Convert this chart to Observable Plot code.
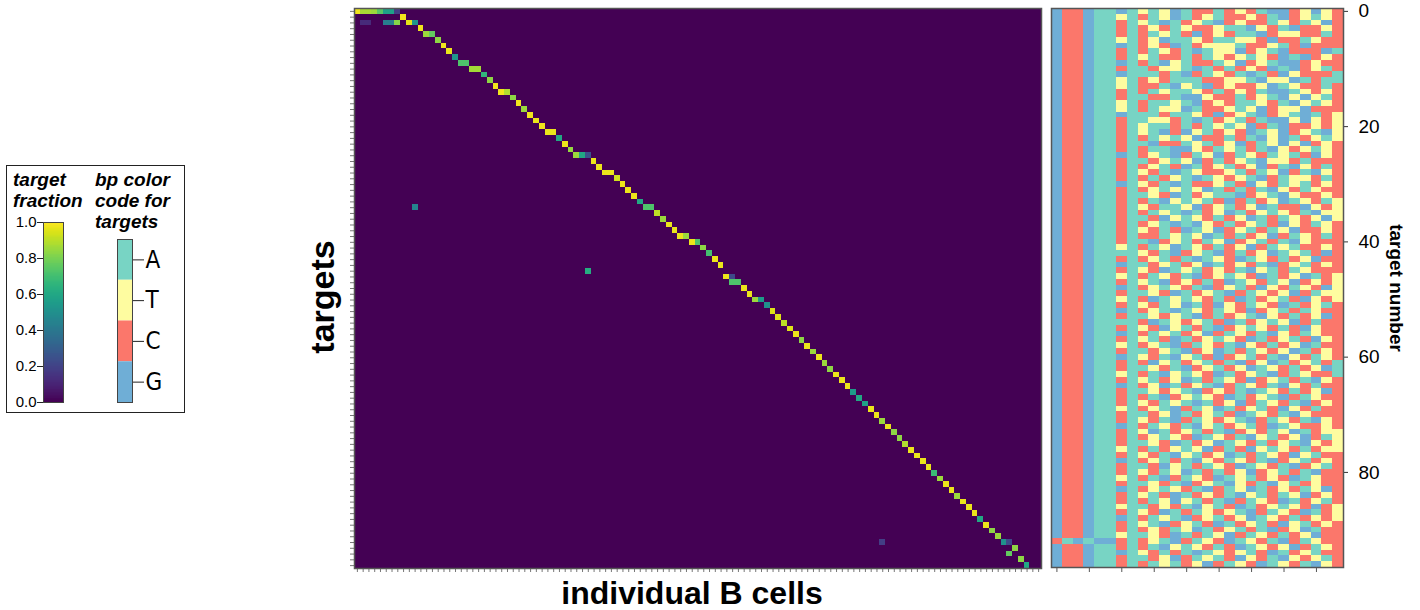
<!DOCTYPE html>
<html>
<head>
<meta charset="utf-8">
<script src="https://cdn.jsdelivr.net/npm/d3@7"></script>
<script src="https://cdn.jsdelivr.net/npm/@observablehq/plot@0.6"></script>
<style>
  body { margin: 0; background: #fff; }
  #root { position: relative; width: 1420px; height: 610px; overflow: hidden; font-family: "Liberation Sans", Arial, sans-serif; color: #000; }
  .lbl { position: absolute; white-space: nowrap; font-weight: bold; line-height: 1; }
  .legtitle { position: absolute; font-weight: bold; font-style: italic; font-size: 19px; line-height: 21px; white-space: nowrap; }
  #legendbox { position: absolute; left: 6px; top: 165px; width: 177px; height: 246px; border: 1px solid #222; }
</style>
</head>
<body>
<div id="root"></div>
<script>
// ---------------- data ----------------
// heatmap: nonzero cells (target row, B-cell column, target fraction)
const heatRows = [
  0,0,0,0,0,0,0,0,
  1,
  2,2,2,2,2,2,2,
  3, 4,4, 5, 6, 7, 8, 9,9, 10,10, 11, 12, 13, 14,14, 15, 16, 17, 18, 19, 20, 21,21,
  22, 23, 24, 25,25,25, 26, 27, 28,28, 29, 30, 31,
  32, 33, 34,34, 35, 36,
  34,
  37, 38, 39,39, 40,40, 41, 42, 43, 44, 45, 46,46, 47,47, 48, 49, 50,50,
  51, 52, 53, 54, 55, 56,
  57, 58, 59, 60, 61, 62, 63, 64, 65, 66, 67, 68, 69, 70, 71, 72, 73, 74, 75,
  76, 77, 78, 79, 80, 81, 82, 83, 84, 85, 86, 87, 88, 89, 90, 91, 92,92,92, 93, 94, 95, 96
];
const heatCols = [
  0,1,2,3,4,5,6,7,
  8,
  1,2,5,6,7,9,10,
  11, 12,13, 14, 15, 16, 17, 18,19, 20,21, 22, 23, 24, 25,26, 27, 28, 29, 30, 31, 32, 33,34,
  35, 36, 37, 38,39,40, 41, 42, 43,44, 45, 46, 47,
  48, 49, 50,51, 52, 53,
  10,
  54, 55, 56,57, 58,59, 60, 61, 62, 63, 40, 64,65, 65,66, 67, 68, 69,70,
  71, 72, 73, 74, 75, 76,
  77, 78, 79, 80, 81, 82, 83, 84, 85, 86, 87, 88, 89, 90, 91, 92, 93, 94, 95,
  96, 97, 98, 99, 100, 101, 102, 103, 104, 105, 106, 107, 108, 109, 110, 111, 112,113,91, 114, 113, 115, 116
];
const heatValues = [
  0.98,0.87,0.87,0.85,0.74,0.57,0.57,0.18,
  0.98,
  0.12,0.12,0.42,0.42,0.82,0.96,0.52,
  0.98, 0.85,0.76, 0.83, 0.98, 0.97, 0.52, 0.72,0.72, 0.86,0.86, 0.66, 0.83, 0.98, 0.98,0.88, 0.83, 0.98, 0.85, 0.98, 0.97, 0.98, 0.97,0.97,
  0.6, 0.97, 0.84, 0.85,0.6,0.25, 0.97, 0.97, 0.97,0.97, 0.93, 0.97, 0.97,
  0.97, 0.6, 0.72,0.72, 0.9, 0.85,
  0.45,
  0.97, 0.97, 0.97,0.85, 0.97,0.72, 0.83, 0.7, 0.97, 0.97, 0.62, 0.97,0.22, 0.72,0.72, 0.97, 0.97, 0.85,0.55,
  0.5, 0.95, 0.95, 0.9, 0.95, 0.97,
  0.83, 0.97, 0.85, 0.97, 0.85, 0.83, 0.97, 0.97, 0.97, 0.55, 0.6, 0.58, 0.97, 0.97, 0.85, 0.97, 0.83, 0.83, 0.88,
  0.97, 0.97, 0.97, 0.97, 0.68, 0.85, 0.97, 0.97, 0.85, 0.97, 0.97, 0.97, 0.6, 0.97, 0.83, 0.85, 0.5,0.22,0.18, 0.83, 0.76, 0.83, 0.6
];
const nTargets = 97;
const nCells = 119;

// bp sequence of every target (27 positions), A/T/C/G
const targetSequences = [
  "GCCGAAGATATGACCACTCAGGCTGTC","GCCGAATACATGACTACCTCAGCTATC","GCCGAACATAGACTAGCTCCATCATGC",
  "GCCGAACACTCATCCTAAGTCAGCCTC","GCCGAACACATACGCTCAAGCTTCCAC","GCCGAATACTGAATCAATTCGCCATCC",
  "GCCGAAGACTCGACTTTACCTACGCCC","GCCGAACACATCAGATTGCTAGCCCGA","GCCGAACATACCACATCTATCGAGCTC",
  "GCCGAAGACAGTACCATGCTAGGCTCC","GCCGAACAACTTAGACACTCGAGCTAC","GCCGAAGAAACAGCATCAGACGTCCCA",
  "GCCGAATACTCAAACCTTAGTTGACAA","GCCGAATACCAGTAGCTCCTGATCCAC","GCCGAACACATAATCACTCAGGATCTC",
  "GCCGAACAACCAGGTCCACTAGTGTAC","GCCGAATACAATAGCTCAATCAGTATC","GCCGAATACATTGACCTATGCTTGCCC",
  "GCCGAAGAAACAATCGCTAGCTAGACT","GCCGAACAATTCAGACTACAGGTGTCT","GCCGAACATAACACATATGCAGCCTCT",
  "GCCGAACATAGCGTACTCGATGCTAGT","GCCGAACACATATGCCACAGTGACTAT","GCCGAACAAGCCATACTGCATGTGCTC",
  "GCCGAACACAAGGTCATACAGTCTATC","GCCGAAGACTAGCATGCATCATACGTC","GCCGAACAACTATGCACTAGTTCACCC",
  "GCCGAACACTACGACTACTGCAGTCAC","GCCGAACATCAGATCCTACATGCAGTC","GCCGAACACACTAGATCTAGCATTCAC",
  "GCCGAAGATCAGACCTACGTCATACTC","GCCGAACACTATATGACACAGTCATCC","GCCGAACAATCGACTAAGCTAGTCCTC",
  "GCCGAACACAGTATACGCACTGATCAT","GCCGAACATCAATGCTACTGACCGTCT","GCCGAACACATAGACTGACTATCAGTT",
  "GCCGAACAACGTATCACTGACATCTGT","GCCGAACACTAGAGTCACTACGTCATC","GCCGAACATCACGATGCTACATGCCTC",
  "GCCGAACACCATATGACACTGCATCAC","GCCGAACAAGCTACATGCTACAGTCCC","GCCGAATACATGATCACTGCATACCTC",
  "GCCGAAAATCAGCTAGCACTGATACGC","GCCGAACACTACAGATCGATCACTGCC","GCCGAAGAACTACTGACTCAGCTACTC",
  "GCCGAACATCGATACTCAGTACATCCC","GCCGAATACATCAGCTATCGACTGACT","GCCGAACATAGCTCACGATCATGCTCT",
  "GCCGAAGACTATCAGCTACGTCATCGT","GCCGAACAATCGACTAGCATCTGCATT","GCCGAATACGATATCACGACTACGTCT",
  "GCCGAACATCATGACGTCATCGACTAC","GCCGAAGACTAGATCATCGCTACATCC","GCCGAACAATCTAGCACTAGTCACTGC",
  "GCCGAAAACGATCTACGACTATGCACC","GCCGAACATCGTACAGCTATCACGTCC","GCCGAAGACATACTGCATCAGTCATCC",
  "GCCGAACATACGACTATCGACTACGTC","GCCGAATACTAGCATCAGTCACTGACC","GCCGAACAACTAGCTGACATCTGACTC",
  "GCCGAAGATCAGTACGCTACAGTCATC","GCCGAACACGTACTACAGCTGACTACA","GCCGAACAATCAGCTACTGATCACTGA",
  "GCCGAATACAGTATCGACTAGCATCCA","GCCGAACATACTGACATCGCTACAGTC","GCCGAAGACTGACTAGCATCAGTCACC",
  "GCCGAACAATCTAGCTCAGATCACTGC","GCCGAACACAGCTATCGACTAGCATCC","GCCGAACATCATAGACTGCATCAGCTC",
  "GCCGAATACTAGCATGACTACGTCACC","GCCGAACAACTGACTACGATCAGTCCC","GCCGAACATCAGCATCTAGCATCAGTC",
  "GCCGAAGACATCAGTACTACGATCCTC","GCCGAACATGACTACAGCTCATGACTT","GCCGAACACTATCGATCAGTACTGCAT",
  "GCCGAACAATCGACTGATCACTAGTCT","GCCGAATACACTATGCACGTATCACTT","GCCGAACATCAGTACTGACATCGTACC",
  "GCCGAAGACTACAGTCATCAGCTACTC","GCCGAACAACGTACATCGATCAGCTAC","GCCGAACATCATGACACTGCTACAGCC",
  "GCCGAATACAGCATCGATACTCGATCC","GCCGAACAATCAGCTAGTCAGTACTCC","GCCGAAGACTATCAGCATGACTCATGC",
  "GCCGAACATACGACTCAGTACATGCTC","GCCGAACACATGTACAGCATCGACTAC","GCCGAATAACTCAGTACGACTATCGCT",
  "GCCGAACATCGACATCTAGCATCGACT","GCCGAAGACATAGCTACTGATCACTCT","GCCGAACATAGCTACGACTACGTACTC",
  "GCCGAACACTCATGACTACAGCTGACC","GCCGAATAATCGACATGCATCACTGCC","CAGAGGCACTAGCATCGATCAGCATCC",
  "GCCGAACACAGTATCACGATCTGCATC","GCCGAAGATCACAGATCTACGACTACC","GCCGAACAACTGCATACGTCAGTCTAC",
  "GCCGAACACATACTGCATCGATCAGTC"
];
const nPositions = 27;

const baseOrder = ["A", "T", "C", "G"];
const baseColors = ["#78d4c4", "#fefca0", "#fb776b", "#6faed6"];
const fractionTicks = [0, 0.2, 0.4, 0.6, 0.8, 1.0];
const targetTicks = [0, 20, 40, 60, 80];
const positionTicks = [0, 3, 6, 9, 12, 15, 18, 21, 24];

// ---------------- drawing ----------------
const root = document.getElementById("root");
function place(node, left, top) {
  node.style.position = "absolute";
  node.style.left = left + "px";
  node.style.top = top + "px";
  root.append(node);
}
const FONT = "'Liberation Sans', Arial, sans-serif";

// main heatmap
const heatData = heatRows.map((r, i) => ({target: r, cell: heatCols[i], value: heatValues[i]}));
const heat = Plot.plot({
  width: 715, height: 610,
  marginLeft: 24, marginRight: 4, marginTop: 8, marginBottom: 42,
  style: {background: "transparent", fontFamily: FONT, fontSize: "10px", overflow: "visible"},
  x: {type: "band", domain: d3.range(nCells), padding: 0, round: false, axis: null},
  y: {type: "band", domain: d3.range(nTargets), padding: 0, round: false, axis: null},
  color: {type: "linear", scheme: "viridis", domain: [0, 1]},
  marks: [
    Plot.frame({fill: d3.interpolateViridis(0)}),
    Plot.cell(heatData, {x: "cell", y: "target", fill: "value", shapeRendering: "crispEdges"}),
    Plot.axisX({anchor: "bottom", tickSize: 4, tickFormat: () => "", stroke: "#777", label: null}),
    Plot.axisY({anchor: "left", tickSize: 4, tickFormat: () => "", stroke: "#777", label: null}),
    Plot.frame({stroke: "#555", strokeWidth: 1.5})
  ]
});
place(heat, 330, 0);

// sequence panel
const seqData = [];
targetSequences.forEach((s, t) => {
  for (let p = 0; p < s.length; p++) seqData.push({target: t, pos: p, base: s[p]});
});
const seqPlot = Plot.plot({
  width: 380, height: 610,
  marginLeft: 11, marginRight: 77, marginTop: 8, marginBottom: 43,
  style: {background: "transparent", fontFamily: FONT, fontSize: "19px", color: "#000", overflow: "visible"},
  x: {type: "band", domain: d3.range(nPositions), padding: 0, round: false, axis: null},
  y: {type: "band", domain: d3.range(nTargets), padding: 0, round: false, axis: null},
  color: {type: "ordinal", domain: baseOrder, range: baseColors},
  marks: [
    Plot.cell(seqData, {x: "pos", y: "target", fill: "base", shapeRendering: "crispEdges"}),
    Plot.axisX({anchor: "bottom", ticks: positionTicks, tickSize: 5, tickFormat: () => "", stroke: "#555", label: null}),
    Plot.axisY({anchor: "right", ticks: targetTicks, tickSize: 4, tickPadding: 11, stroke: "#333", fill: "#000", label: null}),
    Plot.frame({stroke: "#555", strokeWidth: 1.5})
  ]
});
place(seqPlot, 1040, 0);

// legend box
const box = document.createElement("div");
box.id = "legendbox";
root.append(box);

function legTitle(html, left, top) {
  const d = document.createElement("div");
  d.className = "legtitle";
  d.innerHTML = html;
  place(d, left, top);
}
legTitle("target<br>fraction", 13, 169);
legTitle("bp color<br>code for<br>targets", 95, 169);

const ramp = d3.range(0, 1, 0.005);
const colorbar = Plot.plot({
  width: 70, height: 195,
  marginLeft: 43, marginRight: 7, marginTop: 7, marginBottom: 8,
  style: {background: "transparent", fontFamily: FONT, fontSize: "15px", color: "#000", overflow: "visible"},
  x: {axis: null},
  y: {domain: [0, 1], axis: null},
  color: {type: "linear", scheme: "viridis", domain: [0, 1]},
  marks: [
    Plot.rect(ramp, {y1: d => d, y2: d => Math.min(1, d + 0.012), fill: d => d, shapeRendering: "crispEdges"}),
    Plot.axisY({anchor: "left", ticks: fractionTicks, tickFormat: d3.format(".1f"), tickSize: 6, tickPadding: 1, stroke: "#222", fill: "#000", label: null}),
    Plot.frame({stroke: "#444"})
  ]
});
place(colorbar, 0, 215);

const basebar = Plot.plot({
  width: 70, height: 180,
  marginLeft: 12, marginRight: 43, marginTop: 9, marginBottom: 8,
  style: {background: "transparent", fontFamily: "'Liberation Sans Narrow', 'DejaVu Sans Condensed', 'Liberation Sans', sans-serif", fontSize: "24px", color: "#000", overflow: "visible"},
  x: {axis: null},
  y: {type: "band", domain: baseOrder, padding: 0, round: false, axis: null},
  color: {type: "ordinal", domain: baseOrder, range: baseColors},
  marks: [
    Plot.cell(baseOrder, {y: d => d, fill: d => d}),
    Plot.axisY({anchor: "right", tickSize: 11, tickPadding: 2, stroke: "#222", fill: "#000", label: null}),
    Plot.frame({stroke: "#444"})
  ]
});
place(basebar, 105, 230);

// axis titles
const yTitle = document.createElement("div");
yTitle.className = "lbl";
yTitle.textContent = "targets";
yTitle.style.fontSize = "34px";
yTitle.style.transform = "translate(-50%,-50%) rotate(-90deg)";
place(yTitle, 322, 297);

const xTitle = document.createElement("div");
xTitle.className = "lbl";
xTitle.textContent = "individual B cells";
xTitle.style.fontSize = "32px";
xTitle.style.transform = "translateX(-50%)";
place(xTitle, 692, 577);

const rTitle = document.createElement("div");
rTitle.className = "lbl";
rTitle.textContent = "target number";
rTitle.style.fontSize = "19px";
rTitle.style.transform = "translate(-50%,-50%) rotate(90deg)";
place(rTitle, 1396, 288);
</script>
</body>
</html>
